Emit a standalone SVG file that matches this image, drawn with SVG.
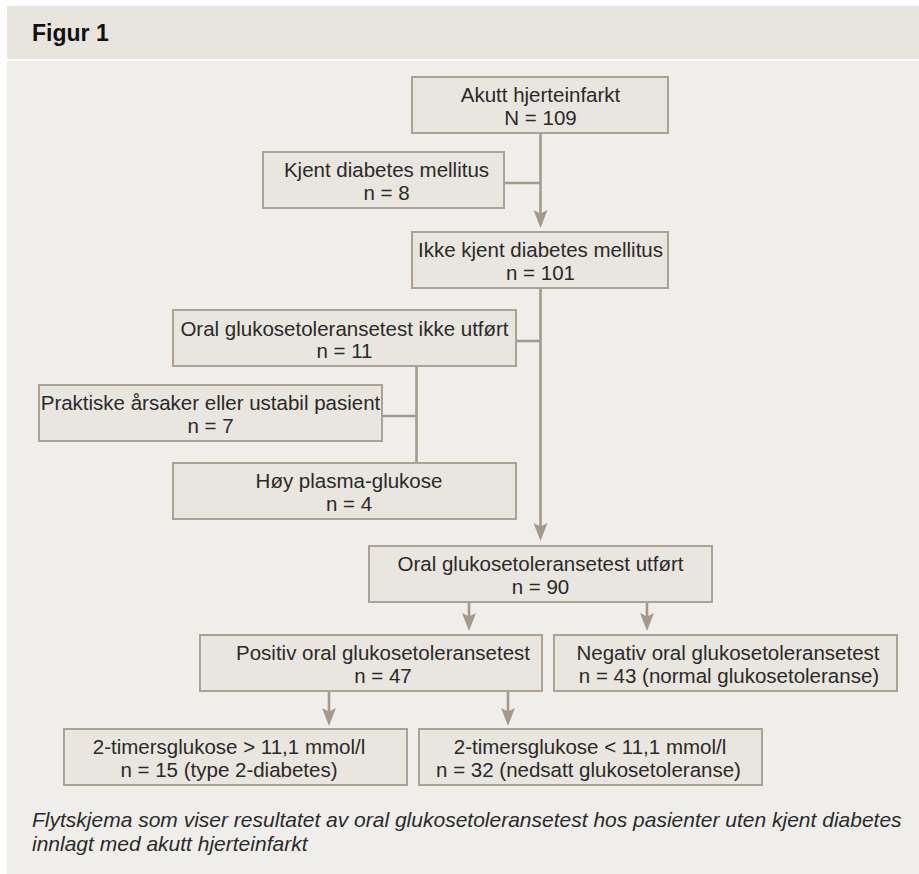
<svg xmlns="http://www.w3.org/2000/svg" width="919" height="874" viewBox="0 0 919 874">
<style>
.box{fill:#e9e5df;stroke:#aba293;stroke-width:2}
.t{font-family:"Liberation Sans",Arial,sans-serif;font-size:20.5px;fill:#2a2a2a;text-anchor:middle}
.cap{font-family:"Liberation Sans",Arial,sans-serif;font-size:21px;font-style:italic;fill:#2a2a2a}
.c{stroke:#a39a8c;stroke-width:2.6;fill:none}
.a{marker-end:url(#arr)}
</style>
<defs>
<marker id="arr" markerUnits="userSpaceOnUse" viewBox="0 0 18 14" markerWidth="18" markerHeight="14" refX="4" refY="7" orient="auto">
<path d="M0,0 L18,7 L0,14 L3.5,7 Z" fill="#a39a8c"/>
</marker>
</defs>
<rect x="7" y="6" width="912" height="53" fill="#e8e5df"/>
<rect x="7" y="61" width="912" height="813" fill="#f0eeea"/>
<text x="32" y="41" font-family="'Liberation Sans',Arial,sans-serif" font-size="23" font-weight="bold" fill="#111">Figur 1</text>
<g id="connectors">
<line class="c a" x1="540.5" y1="133" x2="540.5" y2="214"/>
<line class="c" x1="504" y1="183" x2="540.5" y2="183"/>
<line class="c a" x1="540.5" y1="288" x2="540.5" y2="527"/>
<line class="c" x1="516" y1="341" x2="540.5" y2="341"/>
<line class="c" x1="416.5" y1="366" x2="416.5" y2="463"/>
<line class="c" x1="382" y1="416" x2="416.5" y2="416"/>
<line class="c a" x1="469" y1="602" x2="469" y2="617"/>
<line class="c a" x1="647" y1="602" x2="647" y2="617"/>
<line class="c a" x1="329" y1="691" x2="329" y2="712"/>
<line class="c a" x1="508" y1="691" x2="508" y2="712"/>
</g>
<g id="n1"><rect class="box" x="412" y="77" width="256" height="56"/><text class="t" x="540.5" y="102">Akutt hjerteinfarkt</text><text class="t" x="540.5" y="125">N = 109</text></g>
<g id="n2"><rect class="box" x="263" y="152" width="241" height="56"/><text class="t" x="386.5" y="177">Kjent diabetes mellitus</text><text class="t" x="386.5" y="200">n = 8</text></g>
<g id="n3"><rect class="box" x="412" y="232" width="256" height="56"/><text class="t" x="540.5" y="257">Ikke kjent diabetes mellitus</text><text class="t" x="540.5" y="280">n = 101</text></g>
<g id="n4"><rect class="box" x="173" y="310" width="343" height="56"/><text class="t" x="344.5" y="335.5">Oral glukosetoleransetest ikke utført</text><text class="t" x="344.5" y="358">n = 11</text></g>
<g id="n5"><rect class="box" x="39" y="385" width="343" height="56"/><text class="t" x="210.5" y="410">Praktiske årsaker eller ustabil pasient</text><text class="t" x="210.5" y="433">n = 7</text></g>
<g id="n6"><rect class="box" x="173" y="463" width="343" height="56"/><text class="t" x="349" y="488">Høy plasma-glukose</text><text class="t" x="349" y="511">n = 4</text></g>
<g id="n7"><rect class="box" x="369" y="546" width="343" height="56"/><text class="t" x="540.5" y="570.5">Oral glukosetoleransetest utført</text><text class="t" x="540.5" y="594">n = 90</text></g>
<g id="n8"><rect class="box" x="200" y="635" width="342" height="56"/><text class="t" x="383" y="659.5">Positiv oral glukosetoleransetest</text><text class="t" x="383" y="683">n = 47</text></g>
<g id="n9"><rect class="box" x="554" y="635" width="343" height="56"/><text class="t" x="728" y="659.5">Negativ oral glukosetoleransetest</text><text class="t" x="729" y="683">n = 43 (normal glukosetoleranse)</text></g>
<g id="n10"><rect class="box" x="64" y="729" width="343" height="56"/><text class="t" x="229" y="753.5">2-timersglukose &gt; 11,1 mmol/l</text><text class="t" x="229" y="777">n = 15 (type 2-diabetes)</text></g>
<g id="n11"><rect class="box" x="419" y="729" width="343" height="56"/><text class="t" x="590" y="753.5">2-timersglukose &lt; 11,1 mmol/l</text><text class="t" x="588.5" y="777">n = 32 (nedsatt glukosetoleranse)</text></g>
<text class="cap" x="32" y="827">Flytskjema som viser resultatet av oral glukosetoleransetest hos pasienter uten kjent diabetes</text>
<text class="cap" x="32" y="851">innlagt med akutt hjerteinfarkt</text>
</svg>
